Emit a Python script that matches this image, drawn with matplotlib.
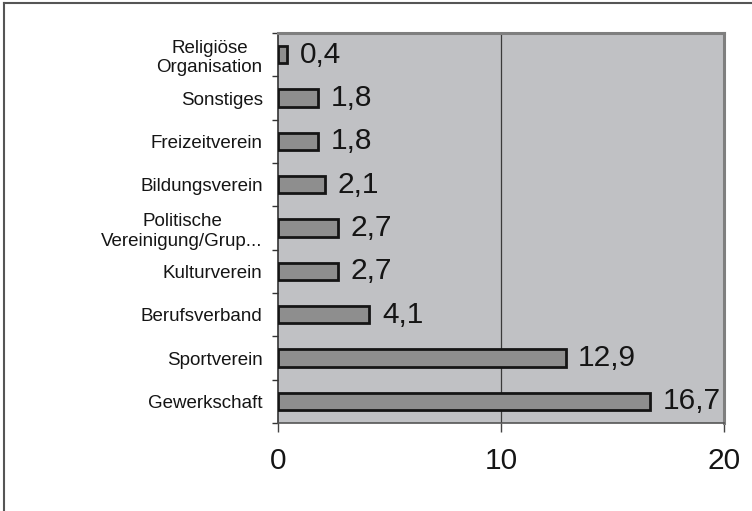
import matplotlib.pyplot as plt
from matplotlib.lines import Line2D
from matplotlib.ticker import FixedLocator

plt.rcParams['font.family'] = ['Liberation Sans', 'DejaVu Sans']

# Mitgliedschaften in Organisationen (Prozent), von unten nach oben
kategorien = ['Gewerkschaft', 'Sportverein', 'Berufsverband', 'Kulturverein',
              'Politische\nVereinigung/Grup...', 'Bildungsverein',
              'Freizeitverein', 'Sonstiges', 'Religiöse\nOrganisation']
werte = [16.7, 12.9, 4.1, 2.7, 2.7, 2.1, 1.8, 1.8, 0.4]
x_ticks = [0, 10, 20]

fig = plt.figure(figsize=(7.52, 5.11), dpi=100)
ax = fig.add_axes([0.3697, 0.1722, 0.5931, 0.7632])
ax.set_facecolor('#c0c1c4')

pos = list(range(len(kategorien)))
ax.barh(pos, werte, height=0.4, color='#8e8e8e', edgecolor='#151515',
        linewidth=2, zorder=3)

for y, v in zip(pos, werte):
    ax.annotate(f'{v:.1f}'.replace('.', ','), (v, y), xytext=(9, 0),
                textcoords='offset points', va='center', ha='left',
                fontsize=21.5, color='#151515')

ax.set_xlim(0, 20)
ax.set_ylim(-0.5, len(kategorien) - 0.5)
ax.set_xticks(x_ticks)
ax.set_xticklabels([str(t) for t in x_ticks], fontsize=21.5, color='#151515')
ax.set_yticks(pos)
ax.set_yticklabels(kategorien, fontsize=13.5, color='#151515')
for lab in ax.get_yticklabels():
    lab.set_multialignment('center')
ax.yaxis.set_minor_locator(FixedLocator([p - 0.5 for p in range(len(kategorien) + 1)]))

ax.tick_params(axis='y', which='major', length=0, pad=11)
ax.tick_params(axis='y', which='minor', length=4, width=1, color='#333333', direction='out')
ax.tick_params(axis='x', length=6.5, width=1, color='#444444', pad=11)

# Gitterlinie bei 10
ax.axvline(10, color='#3a3a3a', linewidth=0.9, zorder=1)

ax.spines['left'].set_color('#333333')
ax.spines['left'].set_linewidth(1.2)
ax.spines['bottom'].set_color('#555555')
ax.spines['bottom'].set_linewidth(1.2)
for s in ['top', 'right']:
    ax.spines[s].set_color('#7f7f7f')
    ax.spines[s].set_linewidth(2.2)

# Rahmen um die Grafik (oben und links)
fig.add_artist(Line2D([4 / 752, 4 / 752], [0, 1 - 3 / 511], transform=fig.transFigure,
                      color='#555555', linewidth=1.5))
fig.add_artist(Line2D([4 / 752, 1], [1 - 3 / 511, 1 - 3 / 511], transform=fig.transFigure,
                      color='#555555', linewidth=1.5))

fig.savefig('out.png', dpi=100)
